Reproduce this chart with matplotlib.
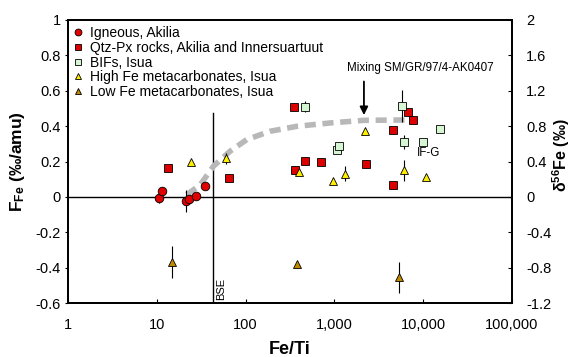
import matplotlib
matplotlib.use("Agg")
import matplotlib.pyplot as plt
from matplotlib.lines import Line2D
from matplotlib.ticker import FixedLocator, NullLocator

plt.rcParams['font.family'] = ['Liberation Sans', 'DejaVu Sans']
plt.rcParams['mathtext.fontset'] = 'custom'
plt.rcParams['mathtext.rm'] = 'Liberation Sans'
plt.rcParams['mathtext.bf'] = 'Liberation Sans:bold'
plt.rcParams['mathtext.it'] = 'Liberation Sans:italic'

# Igneous, Akilia
ign_x = [10.7, 11.5, 21.5, 23, 27.3, 35.2]
ign_y = [-0.006, 0.036, -0.023, -0.01, 0.005, 0.064]
ign_e = [0.03, 0.02, 0.06, 0.02, 0.02, 0.02]

# Qtz-Px rocks, Akilia and Innersuartuut
qpx_x = [13.3, 64.5, 351, 363, 470, 713, 2290, 4610, 4610, 6800, 7740]
qpx_y = [0.162, 0.105, 0.51, 0.152, 0.205, 0.198, 0.186, 0.376, 0.066, 0.482, 0.433]
qpx_e = [0.02, 0.02, 0.02, 0.02, 0.02, 0.02, 0.02, 0.02, 0.02, 0.02, 0.02]

# BIFs, Isua
bif_x = [470, 1060, 1135, 5770, 6130, 10000, 15350]
bif_y = [0.51, 0.267, 0.286, 0.512, 0.31, 0.31, 0.382]
bif_e = [0.03, 0.02, 0.02, 0.09, 0.04, 0.02, 0.02]

# High Fe metacarbonates, Isua
hfe_x = [24, 60, 403, 957, 1330, 2230, 6080, 10670]
hfe_y = [0.196, 0.218, 0.139, 0.092, 0.132, 0.375, 0.15, 0.113]
hfe_e = [0.01, 0.03, 0.01, 0.01, 0.04, 0.01, 0.06, 0.01]

# Low Fe metacarbonates, Isua
lfe_x = [14.7, 376, 5300]
lfe_y = [-0.369, -0.379, -0.454]
lfe_e = [0.09, 0.01, 0.087]

# mixing curve
mix_x = [21.7, 30.6, 43.3, 66.7, 103, 188, 376, 892, 2150, 7000]
mix_y = [0.013, 0.066, 0.173, 0.258, 0.324, 0.371, 0.399, 0.418, 0.433, 0.435]

bse_x = 42.6
x_ticks = [1, 10, 100, 1000, 10000, 100000]
x_labels = ['1', '10', '100', '1,000', '10,000', '100,000']
left_ticks = [-0.6, -0.4, -0.2, 0, 0.2, 0.4, 0.6, 0.8, 1]
left_labels = ['-0.6', '-0.4', '-0.2', '0', '0.2', '0.4', '0.6', '0.8', '1']
right_ticks = [-1.2, -0.8, -0.4, 0, 0.4, 0.8, 1.2, 1.6, 2]
right_labels = ['-1.2', '-0.8', '-0.4', '0', '0.4', '0.8', '1.2', '1.6', '2']

fig = plt.figure(figsize=(5.74, 3.57), dpi=100)
ax = fig.add_axes([0.1185, 0.151, 0.7735, 0.793])
ax.set_xscale('log')
ax.set_xlim(1, 100000)
ax.set_ylim(-0.6, 1)

ax.axhline(0, color='black', lw=1.0, zorder=1)
ax.plot([bse_x, bse_x], [-0.6, 0.475], color='black', lw=1.0, zorder=1)
ax.text(bse_x * 1.08, -0.585, 'BSE', rotation=90, fontsize=8, ha='left', va='bottom')

ax.plot(mix_x, mix_y, color='#b8b8b8', lw=4, ls=(0, (2.0, 1.2)), zorder=2)

eb = dict(ls='none', ecolor='black', elinewidth=0.8, capsize=0, zorder=3)
ms = 6.2
series = [
    (ign_x, ign_y, ign_e, 'o', ms, '#e00000', 'Igneous, Akilia'),
    (qpx_x, qpx_y, qpx_e, 's', ms - 0.6, '#dd0000', 'Qtz-Px rocks, Akilia and Innersuartuut'),
    (bif_x, bif_y, bif_e, 's', ms - 0.6, '#d6f5d2', 'BIFs, Isua'),
    (hfe_x, hfe_y, hfe_e, '^', ms, '#ffee00', 'High Fe metacarbonates, Isua'),
    (lfe_x, lfe_y, lfe_e, '^', ms, '#c08a00', 'Low Fe metacarbonates, Isua'),
]
handles = []
for xs, ys, es, mk, size, col, lab in series:
    ax.errorbar(xs, ys, yerr=es, marker=mk, ms=size, mfc=col, mec='black', mew=0.6, **eb)
    handles.append(Line2D([], [], ls='none', marker=mk, ms=size * 0.8, mfc=col,
                          mec='black', mew=0.6, label=lab))

ax.annotate('', xy=(2150, 0.447), xytext=(2150, 0.668),
            arrowprops=dict(arrowstyle='-|>', color='black', lw=1.3, mutation_scale=12))
ax.text(9200, 0.695, 'Mixing SM/GR/97/4-AK0407', fontsize=8.4, ha='center', va='bottom')
ax.text(8500, 0.25, 'IF-G', fontsize=8.4, ha='left', va='center')

ax.legend(handles=handles, loc='upper left', frameon=False, fontsize=10, handlelength=0.6,
          handletextpad=0.5, labelspacing=0.05, borderaxespad=0.25, borderpad=0.2)

ax.xaxis.set_major_locator(FixedLocator(x_ticks))
ax.xaxis.set_minor_locator(NullLocator())
ax.set_xticklabels(x_labels)
ax.set_yticks(left_ticks)
ax.set_yticklabels(left_labels)
ax.tick_params(axis='x', direction='in', length=3, labelsize=10.5, pad=11)
ax.tick_params(axis='y', direction='out', length=2, labelsize=10.5, pad=3)

ax2 = ax.twinx()
ax2.set_ylim(-1.2, 2)
ax2.set_yticks(right_ticks)
ax2.set_yticklabels(right_labels)
ax2.tick_params(axis='y', direction='in', length=3, labelsize=10.5, pad=10)

for a in (ax, ax2):
    for s in a.spines.values():
        s.set_linewidth(1.3)

ax.set_xlabel('Fe/Ti', fontsize=13, fontweight='bold', labelpad=6)
ax.set_ylabel(r'$\mathbf{F_{Fe}}$ (‰/amu)', fontsize=12.5, fontweight='bold', labelpad=6)
fig.text(0.978, 0.565, r'$\mathbf{\delta^{56}}$Fe (‰)', fontsize=11.5, fontweight='bold',
         rotation=90, ha='center', va='center')

fig.savefig('out.png', dpi=100)
